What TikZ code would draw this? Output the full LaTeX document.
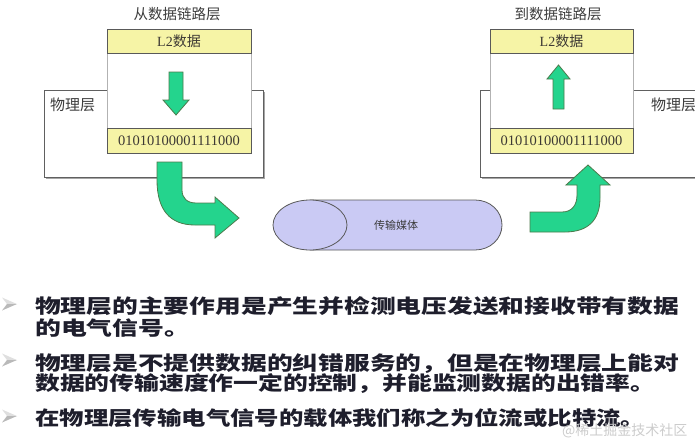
\documentclass[tikz,border=0pt]{standalone}
\usepackage{fontspec}
\usepackage{graphicx}
\setmainfont{Liberation Serif}
\newfontfamily\cjk{Noto Sans CJK SC}
\usetikzlibrary{shapes.geometric,shadows}
\definecolor{boxyellow}{HTML}{F6F4A6}
\definecolor{arrowgreen}{HTML}{24D48D}
\definecolor{lavender}{HTML}{CACAF4}
\definecolor{bodyink}{HTML}{1E1E2C}
\definecolor{labelink}{HTML}{3C3C3C}
\newcommand{\widetext}[2]{\resizebox{#1pt}{\height}{#2}}
\begin{document}
\begin{tikzpicture}[x=1pt,y=-1pt,
  physbox/.style={draw=gray!75!black, fill=white, line width=0.8pt, inner sep=0pt, outer sep=0pt, anchor=north west,
    drop shadow={shadow xshift=1.6pt, shadow yshift=-1.6pt, fill=gray!70, opacity=1}},
  upperbox/.style={draw=gray!60, fill=white, line width=0.7pt, inner sep=0pt, outer sep=0pt, anchor=north west},
  ybar/.style={draw=black!65, fill=boxyellow, line width=0.9pt, inner sep=0pt, outer sep=0pt, anchor=north west,
    text=black!70!yellow!40!black,
    drop shadow={shadow xshift=1.2pt, shadow yshift=-1.2pt, fill=gray!65, opacity=1}},
  hdrfont/.style={font=\fontsize{14}{16}\selectfont},
  bitfont/.style={font=\fontsize{14.5}{16}\selectfont},
  titlefont/.style={font=\cjk\fontsize{14.5}{16}\selectfont, text=labelink},
  physfont/.style={font=\cjk\fontsize{15}{17}\selectfont, text=labelink, anchor=west, inner sep=0pt},
  blockarrow/.style={draw=black!55!green!40!gray, fill=arrowgreen, line width=0.8pt, line join=miter},
  medium/.style={draw=black!65, fill=lavender, line width=0.8pt},
  bodytext/.style={font=\cjk\bfseries\fontsize{19.5}{21}\selectfont, text=bodyink, anchor=west, inner sep=0pt},
  bullettop/.style={fill=gray!25},
  bulletbot/.style={fill=gray!55},
]
\useasboundingbox (0,0) rectangle (695,442);
\clip (0,0) rectangle (695,442);

% ---------- left side ----------
\node[titlefont] (titleL) at (177,14) {从数据链路层};
\node[physbox, minimum width=219, minimum height=87] (physL) at (44,90) {};
\node[physfont] (physLtxt) at (50,105) {物理层};
\node[upperbox, minimum width=144, minimum height=124] (upL) at (107,29) {};
\node[ybar, hdrfont, minimum width=144, minimum height=24] (hdrL) at (107,29) {L2{\cjk 数据}};
\node[ybar, bitfont, minimum width=144, minimum height=25] (bitsL) at (107,128) {01010100001111000};
\draw[blockarrow] (169,72) -- (183,72) -- (183,100) -- (189,100) -- (176,115) -- (163,100) -- (169,100) -- cycle;

% ---------- right side ----------
\node[titlefont] (titleR) at (558,14) {到数据链路层};
\node[physbox, minimum width=240, minimum height=87] (physR) at (480,90) {};
\node[physfont] (physRtxt) at (651,105) {物理层};
\node[upperbox, minimum width=143, minimum height=124] (upR) at (490,29) {};
\node[ybar, hdrfont, minimum width=143, minimum height=24] (hdrR) at (490,29) {L2{\cjk 数据}};
\node[ybar, bitfont, minimum width=143, minimum height=25] (bitsR) at (490,128) {01010100001111000};
\draw[blockarrow] (553,109) -- (564,109) -- (564,79) -- (570,79) -- (558.5,65) -- (547,79) -- (553,79) -- cycle;

% ---------- curved arrows ----------
\draw[blockarrow] (157,162) -- (157,180) .. controls (157,210) and (170,225) .. (195,225)
  -- (215,225) -- (215,238) -- (239,218) -- (215,197) -- (215,203) -- (196,203)
  .. controls (187,203) and (182,198) .. (182,190) -- (182,162) -- cycle;
\draw[blockarrow] (530,212) -- (562,212) .. controls (572,212) and (577,205) .. (577,195)
  -- (577,185) -- (566,185) -- (588,165) -- (610,185) -- (600,185) -- (600,198)
  .. controls (600,220) and (588,232) .. (565,232) -- (530,232) -- cycle;

% ---------- transmission medium ----------
\draw[medium] (310,200) -- (475,200) .. controls (490,200) and (502,211) .. (502,225)
  .. controls (502,239) and (490,250) .. (475,250) -- (310,250) -- cycle;
\node[ellipse, medium, minimum width=74, minimum height=50, inner sep=0pt] (medE) at (310,225) {};
\node[font=\cjk\fontsize{11}{13}\selectfont, text=labelink] (medT) at (396,225) {传输媒体};

% ---------- bullets ----------
\foreach \by in {304,360,416} {
  \fill[bullettop] (2,\by-6.5) -- (17,\by) -- (7,\by) -- cycle;
  \fill[bulletbot] (2,\by+6.5) -- (17,\by) -- (7,\by) -- cycle;
}

% ---------- bullet text ----------
\node[bodytext] (t1) at (35,306) {\widetext{644}{物理层的主要作用是产生并检测电压发送和接收带有数据}};
\node[bodytext] (t2) at (35,328) {\widetext{155}{的电气信号。}};
\node[bodytext] (t3) at (35,364) {\widetext{644}{物理层是不提供数据的纠错服务的，但是在物理层上能对}};
\node[bodytext] (t4) at (35,384) {\widetext{620}{数据的传输速度作一定的控制，并能监测数据的出错率。}};
\node[bodytext] (t5) at (35,418) {\widetext{610}{在物理层传输电气信号的载体我们称之为位流或比特流。}};
\node[font=\cjk\fontsize{14}{16}\selectfont, text=gray!40, anchor=west, inner sep=0pt] (wm) at (562,431) {@稀土掘金技术社区};
\end{tikzpicture}
\end{document}
